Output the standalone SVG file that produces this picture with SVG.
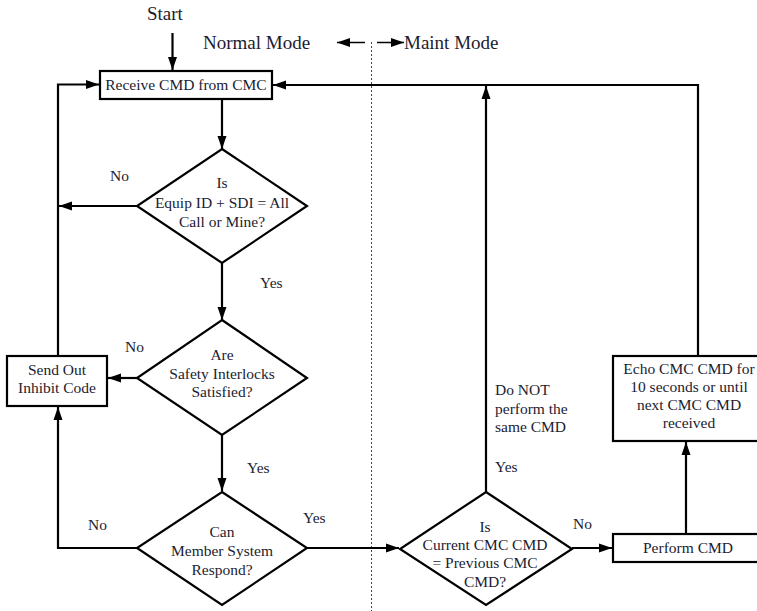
<svg xmlns="http://www.w3.org/2000/svg" width="757" height="611" viewBox="0 0 757 611">
<style>
  .shape { fill: #ffffff; stroke: #000000; stroke-width: 2.2; }
  .line { fill: none; stroke: #000000; stroke-width: 2.2; }
  .thin { fill: none; stroke: #000000; stroke-width: 1.5; }
  .div { fill: none; stroke: #444444; stroke-width: 1; stroke-dasharray: 2 2; }
  text { font-family: "Liberation Serif", "Times New Roman", serif; fill: #1c1c30; }
  .t { font-size: 15.5px; text-anchor: middle; }
  .l { font-size: 15.5px; }
  .h { font-size: 19px; }
</style>
<defs>
  <marker id="arr" markerUnits="userSpaceOnUse" markerWidth="14" markerHeight="10" refX="13" refY="5" orient="auto">
    <path d="M0,0.5 L13,5 L0,9.5 Z" fill="#000000"/>
  </marker>
</defs>
<rect width="757" height="611" fill="#ffffff"/>

<g id="header">
  <text class="h" x="147" y="20">Start</text>
  <text class="h" x="203" y="49">Normal Mode</text>
  <text class="h" x="404" y="49">Maint Mode</text>
  <line class="div" x1="371.5" y1="42" x2="371.5" y2="611"/>
</g>

<g id="connectors">
  <line class="thin" x1="365" y1="42.5" x2="337" y2="42.5" marker-end="url(#arr)"/>
  <line class="thin" x1="377" y1="42.5" x2="404" y2="42.5" marker-end="url(#arr)"/>
  <line class="line" x1="172.5" y1="33" x2="172.5" y2="70" marker-end="url(#arr)"/>
  <line class="line" x1="222" y1="100" x2="222" y2="149" marker-end="url(#arr)"/>
  <line class="line" x1="222" y1="263" x2="222" y2="320" marker-end="url(#arr)"/>
  <line class="line" x1="222" y1="435" x2="222" y2="491" marker-end="url(#arr)"/>
  <line class="line" x1="137" y1="206" x2="59" y2="206" marker-end="url(#arr)"/>
  <line class="line" x1="137" y1="378" x2="108" y2="378" marker-end="url(#arr)"/>
  <polyline class="line" points="58,356 58,84.5 99,84.5" marker-end="url(#arr)"/>
  <polyline class="line" points="137,548 58,548 58,407" marker-end="url(#arr)"/>
  <line class="line" x1="307" y1="548" x2="399" y2="548" marker-end="url(#arr)"/>
  <line class="line" x1="486" y1="492" x2="486" y2="86" marker-end="url(#arr)"/>
  <line class="line" x1="572" y1="548" x2="612" y2="548" marker-end="url(#arr)"/>
  <line class="line" x1="686" y1="533" x2="686" y2="442" marker-end="url(#arr)"/>
  <polyline class="line" points="698,356 698,85 273,85" marker-end="url(#arr)"/>
</g>

<g id="receive">
  <rect class="shape" x="100" y="71" width="172" height="28"/>
  <text class="t" x="186" y="90">Receive CMD from CMC</text>
</g>

<g id="decision-equip">
  <polygon class="shape" points="222,149 307,206 222,263 137,206"/>
  <text class="t" x="222" y="188">Is</text>
  <text class="t" x="222" y="208">Equip ID + SDI = All</text>
  <text class="t" x="222" y="227">Call or Mine?</text>
</g>

<g id="decision-safety">
  <polygon class="shape" points="222,320 307,378 222,435 137,378"/>
  <text class="t" x="222" y="360">Are</text>
  <text class="t" x="222" y="379">Safety Interlocks</text>
  <text class="t" x="222" y="397">Satisfied?</text>
</g>

<g id="decision-member">
  <polygon class="shape" points="222,492 307,548 222,605 137,548"/>
  <text class="t" x="222" y="537">Can</text>
  <text class="t" x="222" y="556">Member System</text>
  <text class="t" x="222" y="575">Respond?</text>
</g>

<g id="inhibit">
  <rect class="shape" x="7" y="356" width="100" height="50"/>
  <text class="t" x="57" y="375">Send Out</text>
  <text class="t" x="57" y="393">Inhibit Code</text>
</g>

<g id="decision-current">
  <polygon class="shape" points="486,492 572,549 486,605 400,549"/>
  <text class="t" x="485" y="532">Is</text>
  <text class="t" x="485" y="550">Current CMC CMD</text>
  <text class="t" x="485" y="568">= Previous CMC</text>
  <text class="t" x="485" y="587">CMD?</text>
</g>

<g id="perform">
  <rect class="shape" x="613" y="534" width="150" height="28"/>
  <text class="t" x="688" y="553">Perform CMD</text>
</g>

<g id="echo">
  <rect class="shape" x="613" y="356" width="152" height="85"/>
  <text class="t" x="689" y="374">Echo CMC CMD for</text>
  <text class="t" x="689" y="392">10 seconds or until</text>
  <text class="t" x="689" y="410">next CMC CMD</text>
  <text class="t" x="689" y="428">received</text>
</g>

<g id="labels">
  <text class="l" x="110" y="181">No</text>
  <text class="l" x="260" y="288">Yes</text>
  <text class="l" x="125" y="352">No</text>
  <text class="l" x="247" y="473">Yes</text>
  <text class="l" x="88" y="530">No</text>
  <text class="l" x="303" y="523">Yes</text>
  <text class="l" x="495" y="395">Do NOT</text>
  <text class="l" x="495" y="414">perform the</text>
  <text class="l" x="495" y="432">same CMD</text>
  <text class="l" x="495" y="472">Yes</text>
  <text class="l" x="573" y="529">No</text>
</g>
</svg>
